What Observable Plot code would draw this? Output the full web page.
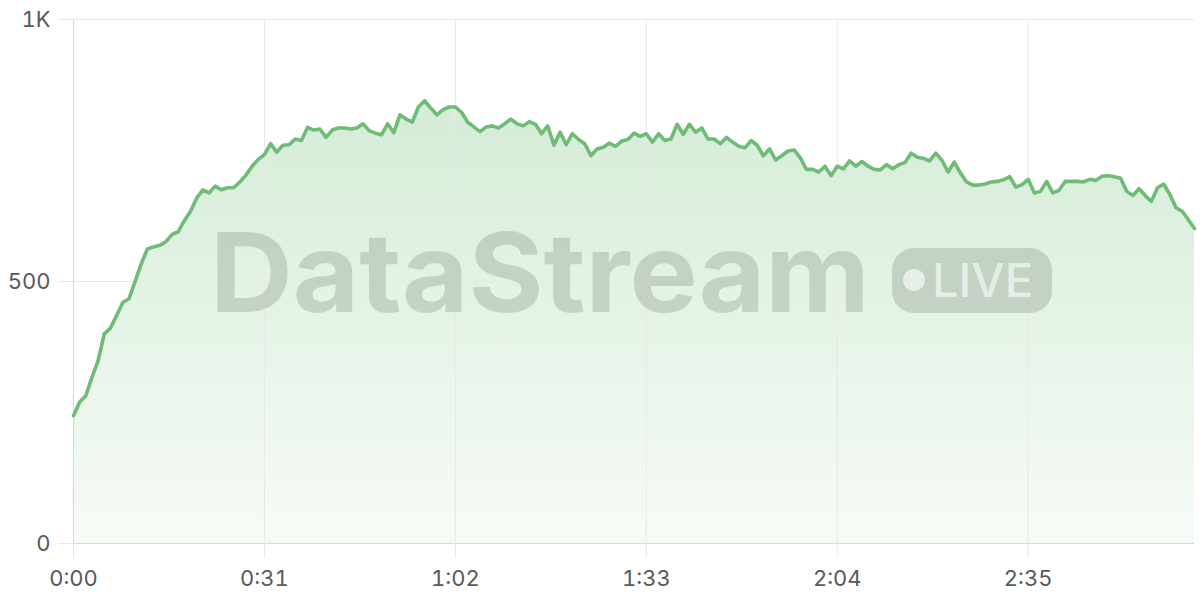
<!DOCTYPE html>
<html>
<head>
<meta charset="utf-8">
<script src="https://cdn.jsdelivr.net/npm/d3@7"></script>
<script src="https://cdn.jsdelivr.net/npm/@observablehq/plot@0.6"></script>
<style>
  html, body { margin: 0; padding: 0; background: #ffffff; }
  #chart { width: 1200px; height: 600px; }
</style>
</head>
<body>
<div id="chart"></div>
<script>
// Viewers per second
const values = [
  244, 270, 282, 317, 349, 400, 411, 435, 460, 467,
  500, 534, 562, 566, 569, 576, 590, 595, 616, 634,
  659, 675, 669, 682, 675, 679, 679, 690, 703, 720,
  733, 742, 763, 747, 760, 761, 772, 769, 794, 789,
  791, 775, 789, 793, 793, 791, 793, 801, 788, 783,
  780, 801, 784, 818, 810, 804, 833, 845, 831, 818,
  828, 833, 833, 823, 804, 795, 786, 795, 797, 793,
  801, 810, 801, 797, 805, 800, 782, 797, 760, 785,
  761, 782, 771, 763, 740, 753, 756, 764, 758, 768,
  771, 783, 777, 782, 766, 782, 769, 772, 800, 781,
  800, 785, 793, 772, 772, 763, 775, 766, 758, 755,
  769, 760, 740, 753, 732, 740, 749, 751, 736, 714,
  714, 709, 720, 702, 720, 715, 730, 720, 729, 720,
  714, 713, 723, 715, 723, 727, 745, 737, 735, 730,
  745, 731, 709, 728, 707, 690, 684, 684, 686, 690,
  691, 694, 700, 680, 685, 695, 669, 672, 691, 669,
  674, 691, 691, 691, 690, 695, 693, 701, 702, 700,
  697, 672, 664, 677, 664, 653, 679, 686, 666, 641,
  634, 618, 601
];
const xTicks = [0, 31, 62, 93, 124, 155];
const yTicks = [0, 500, 1000];
const yTickLabels = ["0", "500", "1K"];
const watermarkText = "DataStream";
const badgeText = "LIVE";

const data = values.map((v, i) => ({t: i, v}));
const fmtTime = s => `${Math.floor(s / 60)}:${String(s % 60).padStart(2, "0")}`;

const lineColor = "#6fbc76";
const gridColor = "#e8e8e8";
const frameColor = "#d9d9d9";
const textColor = "#595959";

const plot = Plot.plot({
  width: 1200,
  height: 600,
  marginLeft: 73,
  marginRight: 6,
  marginTop: 19,
  marginBottom: 57,
  style: {fontFamily: "Inter, 'Noto Sans', sans-serif", fontSize: "22px", background: "#ffffff"},
  x: {domain: [0, 182]},
  y: {domain: [0, 1000]},
  marks: [
    Plot.areaY(data, {x: "t", y: "v", fill: "url(#areaGrad)", curve: "linear"}),
    Plot.gridX(xTicks.filter(d => d !== 0), {stroke: gridColor, strokeOpacity: 1}),
    Plot.gridY(yTicks.filter(d => d !== 0), {stroke: gridColor, strokeOpacity: 1}),
    Plot.ruleX([0], {stroke: frameColor, strokeWidth: 1.2}),
    Plot.ruleY([0], {stroke: frameColor, strokeWidth: 1.2}),
    Plot.axisX(xTicks, {
      tickSize: 15, tickPadding: 12, stroke: gridColor, strokeOpacity: 1,
      fill: textColor, tickFormat: fmtTime, label: null, fontSize: 22
    }),
    Plot.axisY(yTicks, {
      tickSize: 15, tickPadding: 8, stroke: gridColor, strokeOpacity: 1,
      fill: textColor, tickFormat: d => yTickLabels[yTicks.indexOf(d)], label: null, fontSize: 22
    }),
    Plot.lineY(data, {x: "t", y: "v", stroke: lineColor, strokeWidth: 3.6, curve: "linear", strokeLinejoin: "round"})
  ]
});

const svg = d3.select(plot);
const defs = svg.insert("defs", ":first-child");
const grad = defs.append("linearGradient")
  .attr("id", "areaGrad").attr("x1", 0).attr("y1", 0).attr("x2", 0).attr("y2", 1);
grad.append("stop").attr("offset", "0%").attr("stop-color", "#72bf78").attr("stop-opacity", 0.3);
grad.append("stop").attr("offset", "100%").attr("stop-color", "#72bf78").attr("stop-opacity", 0.06);

// Watermark (decoration, drawn just above the area)
const wm = svg.insert("g", "g[aria-label='line']")
  .attr("pointer-events", "none").attr("text-anchor", "start");
wm.append("text")
  .attr("x", 210).attr("y", 312)
  .attr("text-anchor", "start")
  .attr("textLength", 660).attr("lengthAdjust", "spacingAndGlyphs")
  .attr("font-family", "Inter, 'Open Sans', sans-serif")
  .attr("font-weight", 700).attr("font-size", 110)
  .attr("fill", "rgb(110,125,110)").attr("fill-opacity", 0.27)
  .text(watermarkText);
wm.append("rect")
  .attr("x", 892).attr("y", 248).attr("width", 160).attr("height", 65).attr("rx", 22)
  .attr("fill", "rgb(110,125,110)").attr("fill-opacity", 0.27);
wm.append("circle")
  .attr("cx", 914).attr("cy", 280).attr("r", 11)
  .attr("fill", "#ffffff").attr("fill-opacity", 0.6);
wm.append("text")
  .attr("x", 932).attr("y", 297)
  .attr("text-anchor", "start")
  .attr("textLength", 101).attr("lengthAdjust", "spacingAndGlyphs")
  .attr("font-family", "Inter, 'Open Sans', sans-serif")
  .attr("font-weight", 500).attr("font-size", 46)
  .attr("fill", "#ffffff").attr("fill-opacity", 0.6)
  .text(badgeText);

document.getElementById("chart").appendChild(plot);
</script>
</body>
</html>
